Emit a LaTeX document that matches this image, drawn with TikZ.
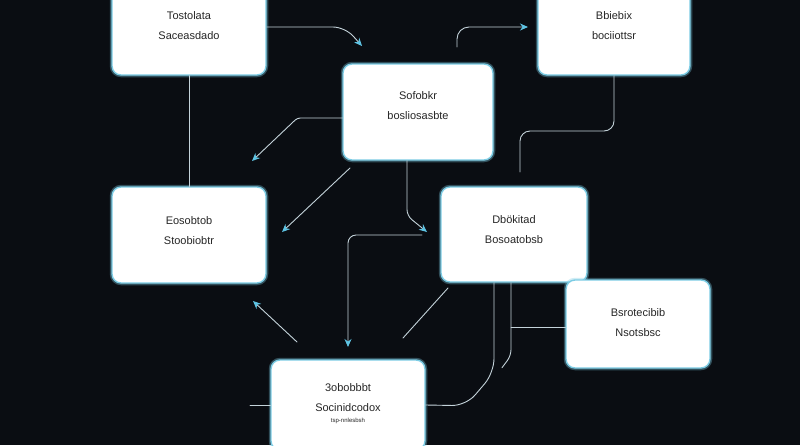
\documentclass[tikz,border=0pt]{standalone}
\usepackage{fontspec}
\setmainfont{Liberation Sans}
\usetikzlibrary{arrows.meta}
\definecolor{bgdark}{HTML}{0A0D12}
\definecolor{glow}{HTML}{7CCCE4}
\definecolor{wire}{HTML}{C4D3DA}
\definecolor{tip}{HTML}{5EC3E3}
\begin{document}
\begin{tikzpicture}[x=1pt,y=-1pt,line cap=round,line join=round,>=Stealth,font=\fontsize{11}{20}\selectfont]
  \tikzset{
    card/.style n args={2}{draw=glow,line width=1.4pt,fill=white,rounded corners=9pt,
      preaction={draw=glow,draw opacity=.35,line width=4.5pt},
      minimum width=#1,minimum height=#2,inner sep=0pt},
    caption/.style={align=center,text=black!85,inner sep=0pt},
    wire/.style={draw=wire,line width=.9pt},
    feed/.style={wire,-{Stealth[length=8pt,width=7pt,color=tip]}}
  }
  \useasboundingbox (0,0) rectangle (800,445);
  \fill[bgdark] (0,0) rectangle (800,445);
  % cards
  \node[card={154}{98}] (b1) at (189,26) {};
  \node[card={152}{98}] (b2) at (614,26) {};
  \node[card={150}{96}] (b3) at (418,112) {};
  \node[card={154}{96}] (b4) at (189,235) {};
  \node[card={146}{95}] (b5) at (514,234.5) {};
  \node[card={144}{88}] (b6) at (638,324) {};
  \node[card={154}{90}] (b7) at (348,405) {};
  \node[caption] (b1t) at (b1.center) {Tostolata\\Saceasdado};
  \node[caption] (b2t) at (b2.center) {Bbiebix\\bociiottsr};
  \node[caption] (b3t) at ([yshift=6pt]b3.center) {Sofobkr\\bosliosasbte};
  \node[caption] (b4t) at ([yshift=4pt]b4.center) {Eosobtob\\Stoobiobtr};
  \node[caption] (b5t) at ([yshift=5pt]b5.center) {Dbökitad\\Bosoatobsb};
  \node[caption] (b6t) at ([yshift=1.5pt]b6.center) {Bsrotecibib\\Nsotsbsc};
  \node[caption,anchor=north] (b7t) at (348,383) {3obobbbt\\Socinidcodox\\[-9pt]{\fontsize{6}{7}\selectfont tsp-nnlesbsh}};
  % free ends
  \coordinate (t1) at (362,46);
  \coordinate (t2) at (252,161);
  \coordinate (d1) at (350,168);
  \coordinate (d2) at (282,232);
  \coordinate (t5) at (427,232);
  \coordinate (s6) at (422,235);
  \coordinate (t6) at (348,347);
  \coordinate (s7) at (297,342);
  \coordinate (t7) at (253,301);
  \coordinate (s8) at (403,338);
  \coordinate (e8) at (448,288);
  \coordinate (s9) at (457,47);
  \coordinate (t9) at (528,27);
  \coordinate (s10) at (520,172);
  \coordinate (s12) at (511,327);
  \coordinate (s13) at (250,405);
  % connectors
  \draw[wire] (b1.south) -- (b4.north);
  \draw[feed,rounded corners=12pt] ([yshift=-1pt]b1.east) -- (345,27) -- (t1);
  \draw[feed,rounded corners=3pt] ([yshift=-6pt]b3.west) -- ++(-45,0) -- (t2);
  \draw[feed] (d1) -- (d2);
  \draw[feed,rounded corners=6pt] ([xshift=-11pt]b3.south) -- ++(0,55) -- (t5);
  \draw[feed,rounded corners=8pt] (s6) -| (t6);
  \draw[feed] (s7) -- (t7);
  \draw[wire] (s8) -- (e8);
  \draw[feed,rounded corners=12pt] (s9) |- (t9);
  \draw[wire,rounded corners=10pt] (s10) |- (614,131) -- (b2.south);
  \draw[wire,rounded corners=14pt] ([xshift=-20pt]b5.south) -- ++(0,90) -- ++(-28,33) -- (b7.east);
  \draw[wire,rounded corners=6pt] ([xshift=-3pt]b5.south) -- ++(0,73) -- ++(-9,12);
  \draw[wire] (s12) -- ([yshift=-3pt]b6.west);
  \draw[wire] (s13) -- (b7.west);
\end{tikzpicture}
\end{document}
